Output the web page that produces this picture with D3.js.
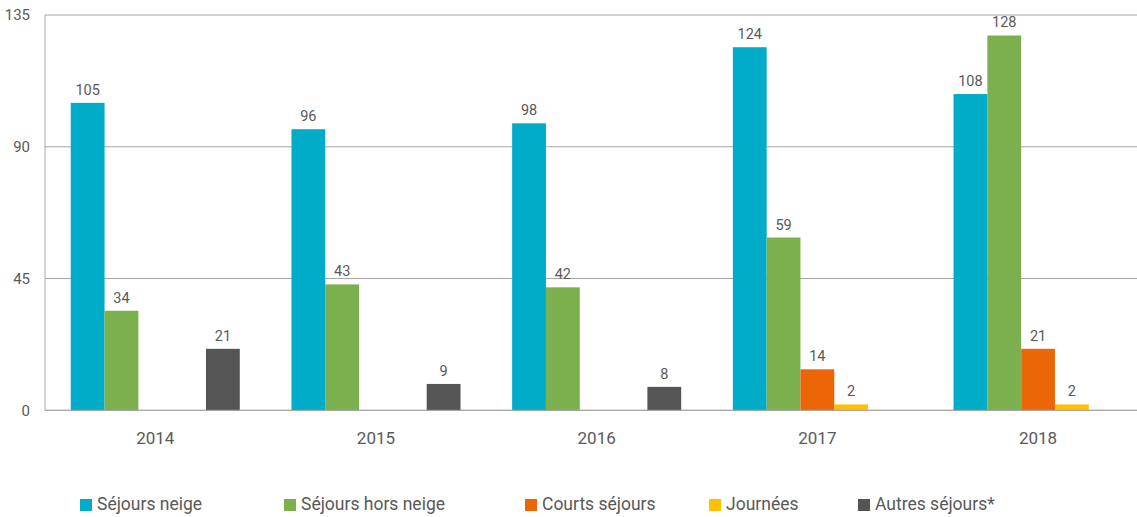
<!DOCTYPE html>
<html><head><meta charset="utf-8">
<script src="https://cdn.jsdelivr.net/npm/d3@7"></script>
<style>body{margin:0;background:#fff;}svg{display:block;font-family:Roboto,"Liberation Sans",sans-serif;}</style>
</head><body><svg id="c" width="1137" height="517"></svg>
<script>
const years = ["2014","2015","2016","2017","2018"];
const seriesNames = ["Séjours neige","Séjours hors neige","Courts séjours","Journées","Autres séjours*"];
const sejoursNeige = [105, 96, 98, 124, 108];
const sejoursHorsNeige = [34, 43, 42, 59, 128];
const courtsSejours = [null, null, null, 14, 21];
const journees = [null, null, null, 2, 2];
const autresSejours = [21, 9, 8, null, null];
const yTicks = [0, 45, 90, 135];
const colors = ["#00ACC8", "#7CB04F", "#EC6608", "#FFC000", "#555555"];
const legendX = [80, 284, 525, 709, 858];

(function(){
const allSeries = [sejoursNeige, sejoursHorsNeige, courtsSejours, journees, autresSejours];
const svg = d3.select("#c");
const pLeft = 45, pRight = 1137, pTop = 15, pBottom = 410.3;
const y = d3.scaleLinear().domain([0,135]).range([pBottom, pTop]);
const pad = 0.234, step = 220.7;
const x0 = d3.scaleBand().domain(years).range([19.1, 19.1 + step*(years.length+pad)]).paddingInner(pad).paddingOuter(pad);
const x1 = d3.scaleBand().domain(d3.range(seriesNames.length)).range([0, x0.bandwidth()]);

svg.append("g").selectAll("line").data(yTicks).join("line")
  .attr("x1", pLeft).attr("x2", pRight)
  .attr("y1", d => y(d)).attr("y2", d => y(d))
  .attr("stroke", "#a6a6a6").attr("stroke-width", 1);
svg.append("line").attr("x1", pLeft).attr("x2", pLeft).attr("y1", pTop).attr("y2", pBottom)
  .attr("stroke", "#a6a6a6").attr("stroke-width", 1);

svg.append("g").selectAll("text").data(yTicks).join("text")
  .attr("x", 30).attr("y", d => y(d)).attr("dy", "0.35em")
  .attr("text-anchor", "end").attr("font-size", 15).attr("fill", "#595959")
  .text(d => d);

const data = [];
years.forEach((yr, i) => allSeries.forEach((s, j) => { if (s[i] != null) data.push({yr, j, v: s[i]}); }));
svg.append("g").selectAll("rect").data(data).join("rect")
  .attr("x", d => x0(d.yr) + x1(d.j))
  .attr("width", x1.bandwidth())
  .attr("y", d => y(d.v))
  .attr("height", d => y(0) - y(d.v))
  .attr("fill", d => colors[d.j]);
svg.append("g").selectAll("text").data(data).join("text")
  .attr("x", d => x0(d.yr) + x1(d.j) + x1.bandwidth()/2)
  .attr("y", d => y(d.v) - 8)
  .attr("text-anchor", "middle").attr("font-size", 14.5).attr("fill", "#595959")
  .text(d => d.v);

svg.append("line").attr("x1", pLeft).attr("x2", pRight).attr("y1", pBottom).attr("y2", pBottom)
  .attr("stroke", "#a6a6a6").attr("stroke-width", 1);

svg.append("g").selectAll("text").data(years).join("text")
  .attr("x", d => x0(d) + x0.bandwidth()/2).attr("y", 444)
  .attr("text-anchor", "middle").attr("font-size", 17).attr("fill", "#595959")
  .text(d => d);

const lg = svg.append("g").selectAll("g").data(seriesNames).join("g")
  .attr("transform", (d,i) => `translate(${legendX[i]},499)`);
lg.append("rect").attr("width", 12).attr("height", 12).attr("fill", (d,i) => colors[i]);
lg.append("text").attr("x", 17).attr("y", 11).attr("font-size", 17.5).attr("fill", "#595959").text(d => d);
})();
</script></body></html>
